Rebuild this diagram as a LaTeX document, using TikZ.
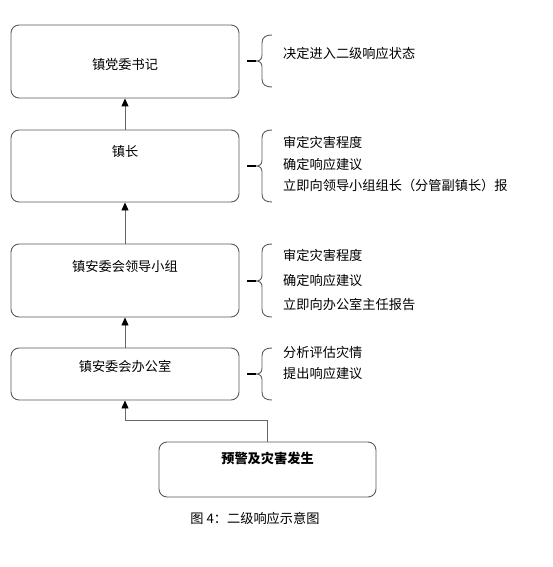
\documentclass[tikz,border=0pt]{standalone}
\usepackage{fontspec}
\setmainfont{Noto Sans CJK SC}
\usetikzlibrary{arrows.meta}

% brace on the right of a box: top, tip, bottom
\newcommand{\sidebrace}[3]{%
  \draw[brace] (272,#1) .. controls (266,#1) and (262,#1+2) .. (262,#1+8) -- (262,#2-6)
    .. controls (262,#2-2) and (260,#2) .. (256,#2)
    .. controls (260,#2) and (262,#2+2) .. (262,#2+6) -- (262,#3-8)
    .. controls (262,#3-2) and (266,#3) .. (272,#3);
  \draw[black, line width=1.4pt] (247,#2) -- (256,#2);}

\begin{document}
\begin{tikzpicture}[x=1pt, y=-1pt, font=\fontsize{13.2}{15}\selectfont,
    box/.style={draw=black!65, line width=0.9pt, rounded corners=8pt, minimum width=228pt},
    arr/.style={draw=black!60, line width=0.9pt, -{Triangle[black, length=8pt, width=7pt]}},
    brace/.style={draw=black!65, line width=0.9pt},
    note/.style={anchor=west, inner sep=0pt}]
    \useasboundingbox (0,0) rectangle (552,567);

    % chain of boxes
    \node[box, minimum height=73pt] (secretary) at (125,61.5) {};
    \node (secretaryT) at (125,64) {镇党委书记};
    \node[box, minimum height=72pt] (mayor) at (125,166) {};
    \node (mayorT) at (125,151) {镇长};
    \node[box, minimum height=73pt] (group) at (125,280.5) {};
    \node (groupT) at (125,266) {镇安委会领导小组};
    \node[box, minimum height=52pt] (office) at (125,374) {};
    \node (officeT) at (125,366) {镇安委会办公室};
    \node[box, minimum width=217pt, minimum height=55pt] (event) at (267.5,469.5) {};
    \node[font=\fontsize{13.2}{15}\selectfont\bfseries] (eventT) at (267.5,458) {预警及灾害发生};

    \draw[arr] (mayor.north) -- (secretary.south);
    \draw[arr] (group.north) -- (mayor.south);
    \draw[arr] (office.north) -- (group.south);
    \draw[arr] (event.north) -- ++(0,-21) -| (office.south);

    % duties on the right
    \sidebrace{35}{61}{87}
    \node[note] (d1) at (283,53) {决定进入二级响应状态};

    \sidebrace{130}{166}{202}
    \node[note] (d2a) at (283,142) {审定灾害程度};
    \node[note] (d2b) at (283,164) {确定响应建议};
    \node[note] (d2c) at (283,185) {立即向领导小组组长（分管副镇长）报};

    \sidebrace{244}{281}{317}
    \node[note] (d3a) at (283,255) {审定灾害程度};
    \node[note] (d3b) at (283,280) {确定响应建议};
    \node[note] (d3c) at (283,304) {立即向办公室主任报告};

    \sidebrace{348}{374}{400}
    \node[note] (d4a) at (283,352) {分析评估灾情};
    \node[note] (d4b) at (283,373) {提出响应建议};

    \node (caption) at (255,518) {图 4：二级响应示意图};
\end{tikzpicture}
\end{document}
